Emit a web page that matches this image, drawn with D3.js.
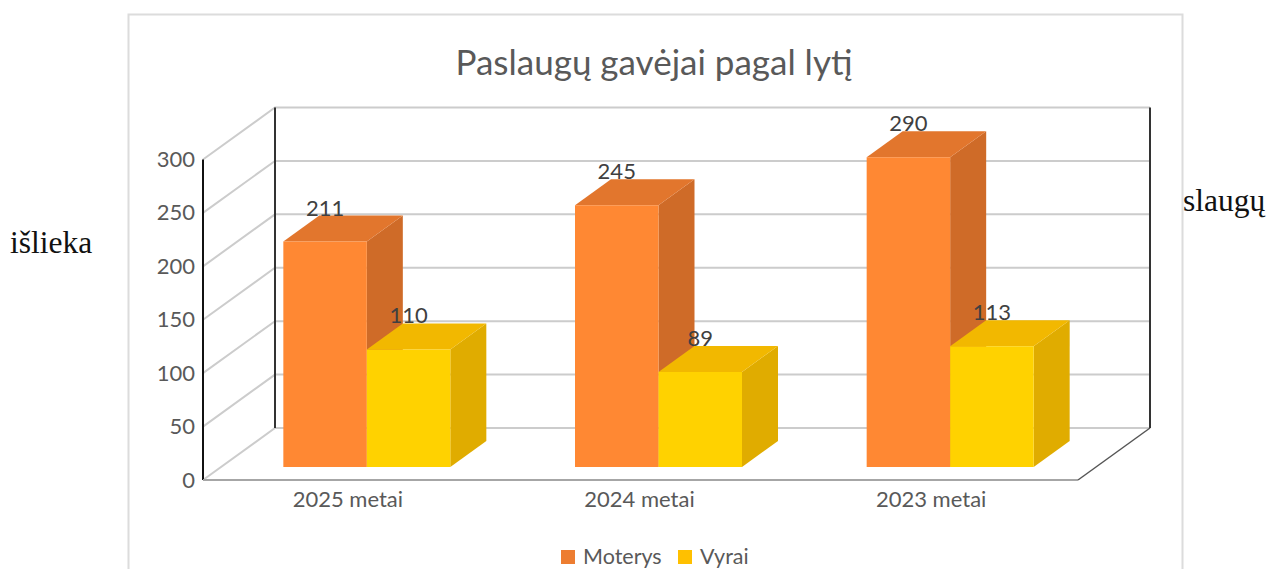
<!DOCTYPE html>
<html><head><meta charset="utf-8">
<script src="https://cdn.jsdelivr.net/npm/d3@7/dist/d3.min.js"></script>
<style>html,body{margin:0;padding:0;background:#fff;overflow:hidden}svg{display:block}text{font-family:Lato,Carlito,sans-serif}</style>
</head><body><svg id="c" width="1268" height="569"></svg>
<script>
const categories=["2025 metai","2024 metai","2023 metai"];
const seriesNames=["Moterys","Vyrai"];
const moterys=[211,245,290];
const vyrai=[110,89,113];
const yTicks=[0,50,100,150,200,250,300];
const titleText="Paslaugų gavėjai pagal lytį";
const colours={Moterys:{front:"#FF8833",top:"#E2762D",side:"#CF6B28",key:"#ED7D31"},Vyrai:{front:"#FFD200",top:"#F2B800",side:"#E0AC00",key:"#FFC000"}};

const svg=d3.select("#c");
const x0=d3.scaleBand().domain(categories).range([203,1078]).paddingInner(0).paddingOuter(0);
const y=d3.scaleLinear().domain([0,300]).range([480,159.5]);
const depthX=d3.scaleLinear().domain([0,1]).range([0,72]);
const depthY=d3.scaleLinear().domain([0,1]).range([0,-52]);
const barW=83.5, d0=0.25, d1=0.75;
const P=(px,py,d)=>[px+depthX(d),py+depthY(d)];
const poly=pts=>pts.map(p=>p.join(",")).join(" ");
const xL=x0.range()[0], xR=x0.range()[1];

// outer card
svg.append("path").attr("d","M128.5 569V14.5H1182.5V569").attr("fill","none").attr("stroke","#dcdcdc").attr("stroke-width",2);

// gridlines: side wall and back wall
const grid=svg.append("g").attr("fill","none").attr("stroke","#cccccc").attr("stroke-width",2);
yTicks.forEach(t=>{
  const a=P(xL,y(t),0),b=P(xL,y(t),1),c=P(xR,y(t),1);
  grid.append("polyline").attr("points",poly([a,b,c]));
});
// frame lines
const fr=svg.append("g").attr("fill","none");
const lineP=(a,b,col,w)=>fr.append("line").attr("x1",a[0]).attr("y1",a[1]).attr("x2",b[0]).attr("y2",b[1]).attr("stroke",col).attr("stroke-width",w);
lineP(P(xL,y(0),1),P(xL,y(300),1),"#333",2);
lineP(P(xR,y(0),1),P(xR,y(300),1),"#333",2);
lineP(P(xL,y(0),0),P(xL,y(300),0),"#111",2);
lineP(P(xL,y(0),0),P(xR,y(0),0),"#a6a6a6",2);
lineP(P(xR,y(0),0),P(xR,y(0),1),"#555",1.5);

// bars
const bandCentre=c=>x0(c)+x0.bandwidth()/2;
const rows=[];
categories.forEach((c,i)=>{
  rows.push({c,s:"Moterys",v:moterys[i],x:bandCentre(c)-barW});
  rows.push({c,s:"Vyrai",v:vyrai[i],x:bandCentre(c)});
});
const bars=svg.append("g");
rows.forEach(r=>{
  const base=y(0),top=y(r.v),col=colours[r.s],g=bars.append("g");
  const xa=r.x,xb=r.x+barW;
  g.append("polygon").attr("fill",col.side).attr("points",poly([P(xb,base,d0),P(xb,base,d1),P(xb,top,d1),P(xb,top,d0)]));
  g.append("polygon").attr("fill",col.top).attr("points",poly([P(xa,top,d0),P(xa,top,d1),P(xb,top,d1),P(xb,top,d0)]));
  g.append("polygon").attr("fill",col.front).attr("points",poly([P(xa,base,d0),P(xb,base,d0),P(xb,top,d0),P(xa,top,d0)]));
});
// data labels
svg.append("g").selectAll("text").data(rows).join("text")
  .attr("x",r=>P(r.x+barW/2,y(r.v),d0)[0])
  .attr("y",r=>P(r.x,y(r.v),d1)[1])
  .attr("text-anchor","middle").attr("font-size",22).attr("fill","#404040").text(r=>r.v);

// y labels
svg.append("g").selectAll("text").data(yTicks).join("text")
  .attr("x",195).attr("y",t=>y(t)+7.5).attr("text-anchor","end").attr("font-size",22).attr("fill","#595959").text(t=>t);
// x labels
svg.append("g").selectAll("text").data(categories).join("text")
  .attr("x",c=>bandCentre(c)-1).attr("y",507).attr("text-anchor","middle").attr("font-size",22).attr("fill","#595959").text(c=>c);
// title
svg.append("text").attr("x",654).attr("y",75).attr("text-anchor","middle").attr("font-size",35).attr("fill","#595959").text(titleText);
// legend
const keyX=d3.scaleOrdinal().domain(seriesNames).range([561,678]);
const leg=svg.append("g");
seriesNames.forEach(s=>{
  leg.append("rect").attr("x",keyX(s)).attr("y",550).attr("width",14).attr("height",14).attr("fill",colours[s].key);
  leg.append("text").attr("x",keyX(s)+22).attr("y",564).attr("font-size",21.5).attr("fill","#595959").text(s);
});
// surrounding page text
svg.append("text").attr("x",10).attr("y",253).attr("font-size",31.5).style("font-family","'Liberation Serif',serif").attr("fill","#111").text("išlieka");
svg.append("text").attr("x",1183).attr("y",211).attr("font-size",31.5).style("font-family","'Liberation Serif',serif").attr("fill","#111").text("slaugų");
</script></body></html>
